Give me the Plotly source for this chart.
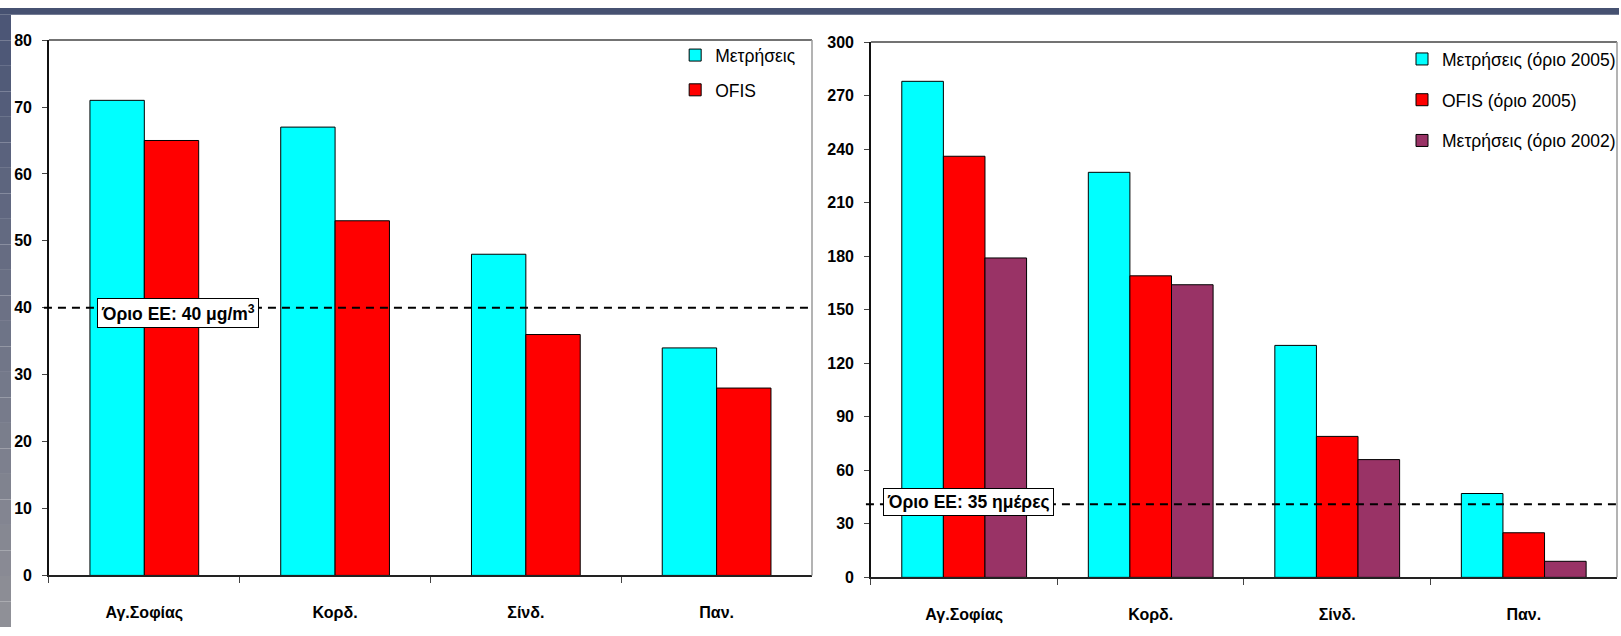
import plotly.graph_objects as go

W, H = 1621, 636

# Stations (shared by both panels)
stations = ["Αγ.Σοφίας", "Κορδ.", "Σίνδ.", "Παν."]

# Left panel: annual mean concentration (μg/m3)
annual_measured = [71, 67, 48, 34]
annual_ofis = [65, 53, 36, 28]
annual_limit = 40

# Right panel: number of exceedance days
days_measured_2005 = [278, 227, 130, 47]
days_ofis_2005 = [236, 169, 79, 25]
days_measured_2002 = [179, 164, 66, 9]
days_limit_line = 41

left_ticks = [0, 10, 20, 30, 40, 50, 60, 70, 80]
right_ticks = [0, 30, 60, 90, 120, 150, 180, 210, 240, 270, 300]

CYAN, RED, PURPLE = "#00FFFF", "#FF0000", "#993366"
FONT = "Arial, Liberation Sans, sans-serif"


def px(x):
    return x / W


def py(y):
    return 1 - y / H


fig = go.Figure()

# left panel bars
lw = 0.285
fig.add_trace(go.Bar(x=stations, y=annual_measured, name="Μετρήσεις",
                     marker=dict(color=CYAN, line=dict(color="black", width=1)),
                     width=lw, offset=-lw, xaxis="x", yaxis="y",
                     legend="legend", legendgroup="a1"))
fig.add_trace(go.Bar(x=stations, y=annual_ofis, name="OFIS",
                     marker=dict(color=RED, line=dict(color="black", width=1)),
                     width=lw, offset=0, xaxis="x", yaxis="y",
                     legend="legend", legendgroup="a2"))

# right panel bars
rw = 0.223
fig.add_trace(go.Bar(x=stations, y=days_measured_2005, name="Μετρήσεις (όριο 2005)",
                     marker=dict(color=CYAN, line=dict(color="black", width=1)),
                     width=rw, offset=-1.5 * rw, xaxis="x2", yaxis="y2",
                     legend="legend2", legendgroup="b1"))
fig.add_trace(go.Bar(x=stations, y=days_ofis_2005, name="OFIS (όριο 2005)",
                     marker=dict(color=RED, line=dict(color="black", width=1)),
                     width=rw, offset=-0.5 * rw, xaxis="x2", yaxis="y2",
                     legend="legend2", legendgroup="b2"))
fig.add_trace(go.Bar(x=stations, y=days_measured_2002, name="Μετρήσεις (όριο 2002)",
                     marker=dict(color=PURPLE, line=dict(color="black", width=1)),
                     width=rw, offset=0.5 * rw, xaxis="x2", yaxis="y2",
                     legend="legend2", legendgroup="b3"))

ytickfont = dict(family=FONT, size=16, color="black", weight="bold")
xtickfont = dict(family=FONT, size=16, color="black", weight="bold")
xax_common = dict(type="category", showline=True, linecolor="#222", linewidth=1.5,
                  ticks="outside", tickson="boundaries", ticklen=6, tickcolor="#444",
                  tickfont=xtickfont, ticklabelstandoff=22, showgrid=False,
                  mirror=False, fixedrange=True)
yax_common = dict(showline=True, linecolor="#111", linewidth=1.5, ticks="outside",
                  ticklen=5, tickcolor="#444", tickfont=ytickfont, showgrid=False,
                  zeroline=False, ticklabelstandoff=7, fixedrange=True)

shapes = []
# slide frame: top band and left strip shading downward
shapes.append(dict(type="rect", xref="paper", yref="paper", x0=0, x1=1,
                   y0=py(7), y1=1, fillcolor="#465171", line=dict(width=0), layer="below"))
n = 24
c0, c1 = (0x4c, 0x56, 0x76), (0x8f, 0x90, 0x97)
for i in range(n):
    t = i / (n - 1)
    col = "rgb(%d,%d,%d)" % tuple(int(a + (b - a) * t) for a, b in zip(c0, c1))
    shapes.append(dict(type="rect", xref="paper", yref="paper", x0=0, x1=px(11),
                       y0=py(7 + (i + 1) * (H - 7) / n), y1=py(7 + i * (H - 7) / n),
                       fillcolor=col, line=dict(width=0), layer="below"))

# plot frames: top and right borders
shapes.append(dict(type="line", xref="x domain", yref="y domain", x0=0, x1=1, y0=1, y1=1,
                   line=dict(color="#444", width=1.5)))
shapes.append(dict(type="line", xref="x domain", yref="y domain", x0=1, x1=1, y0=0, y1=1,
                   line=dict(color="#9a9a9a", width=1.5)))
shapes.append(dict(type="line", xref="x2 domain", yref="y2 domain", x0=0, x1=1, y0=1, y1=1,
                   line=dict(color="#444", width=1.5)))
shapes.append(dict(type="line", xref="x2 domain", yref="y2 domain", x0=1, x1=1, y0=0, y1=1,
                   line=dict(color="#9a9a9a", width=1.5)))

# limit lines
shapes.append(dict(type="line", xref="paper", yref="y", x0=px(44), x1=px(813),
                   y0=annual_limit, y1=annual_limit,
                   line=dict(color="black", width=2, dash="8px,6px")))
shapes.append(dict(type="line", xref="paper", yref="y2", x0=px(867), x1=1,
                   y0=days_limit_line, y1=days_limit_line,
                   line=dict(color="black", width=2, dash="8px,6px")))

annotations = [
    dict(text="Όριο ΕΕ: 40 μg/m<sup>3</sup>", xref="paper", yref="paper",
         x=px(178.5), y=py(313), xanchor="center", yanchor="middle", showarrow=False,
         font=dict(family=FONT, size=17.5, color="black", weight="bold"),
         bgcolor="white", bordercolor="black", borderwidth=1, borderpad=3),
    dict(text="Όριο ΕΕ: 35 ημέρες", xref="paper", yref="paper",
         x=px(969.5), y=py(507.5), xanchor="center", yanchor="middle", showarrow=False,
         font=dict(family=FONT, size=17.5, color="black", weight="bold"),
         bgcolor="white", bordercolor="black", borderwidth=1, borderpad=3),
]

legend_font = dict(family=FONT, size=17.5, color="black")

fig.update_layout(
    width=W, height=H,
    margin=dict(l=0, r=0, t=0, b=0),
    paper_bgcolor="white", plot_bgcolor="white",
    barmode="overlay",
    showlegend=True,
    xaxis=dict(domain=[px(49), px(813)], anchor="y", **xax_common),
    yaxis=dict(domain=[py(583), py(33)], range=[0, 80], tickvals=left_ticks,
               anchor="x", **yax_common),
    xaxis2=dict(domain=[px(872), px(1619)], anchor="y2", **xax_common),
    yaxis2=dict(domain=[py(585), py(35)], range=[0, 300], tickvals=right_ticks,
                anchor="x2", **yax_common),
    legend=dict(x=px(676), y=py(30), xanchor="left", yanchor="top",
                bgcolor="rgba(0,0,0,0)", font=legend_font, traceorder="grouped",
                tracegroupgap=9, itemclick=False, itemdoubleclick=False),
    legend2=dict(x=px(1404), y=py(34), xanchor="left", yanchor="top",
                 bgcolor="rgba(0,0,0,0)", font=legend_font, traceorder="grouped",
                 tracegroupgap=15, itemclick=False, itemdoubleclick=False),
    shapes=shapes,
    annotations=annotations,
)

fig.write_html("out.html")
